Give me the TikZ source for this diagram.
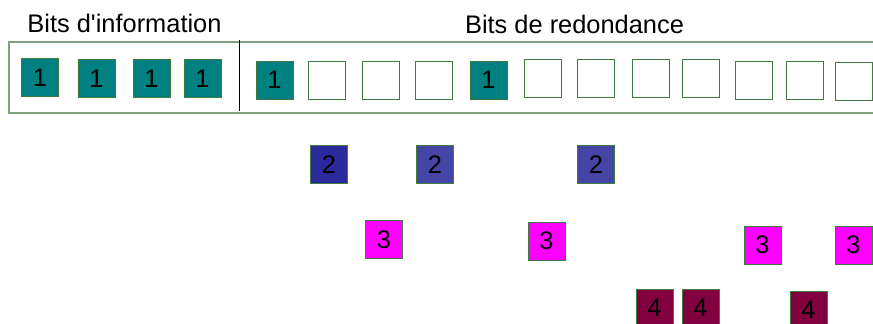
\documentclass[tikz,border=0pt]{standalone}
\usepackage{fontspec}
\setmainfont{Liberation Sans}
\usepackage{tikz}
\usepackage{xcolor}
\definecolor{framegreen}{HTML}{80A080}
\definecolor{boxgreen}{HTML}{3F7A3F}
\definecolor{bitteal}{HTML}{008080}
\definecolor{bitblue}{HTML}{2A2A9C}
\definecolor{bitbluelight}{HTML}{4545A5}
\definecolor{bitmagenta}{HTML}{FF00FF}
\definecolor{bitwine}{HTML}{800040}

\begin{document}
\begin{tikzpicture}[
    x=1pt, y=-1pt,
    every node/.style={font=\fontsize{25.4}{30}\selectfont},
    bitbox/.style={rectangle, draw=boxgreen, line width=1pt, minimum width=37pt, minimum height=38pt, inner sep=0pt},
    info/.style={bitbox, fill=bitteal},
    empty/.style={bitbox, fill=white},
    two/.style={bitbox, fill=bitbluelight},
    three/.style={bitbox, fill=bitmagenta},
    four/.style={bitbox, fill=bitwine}
]
    \useasboundingbox (0,0) rectangle (873,324);
    % titles
    \node[anchor=base] (infotitle) at (124.5,32) {Bits d\textquotesingle information};
    \node[anchor=base] (redtitle) at (574.5,33) {Bits de redondance};
    % frame and separator
    \draw[framegreen, line width=1.1pt] (880,42) -- (9,42) -- (9,113) -- (880,113);
    \draw[black, line width=1pt] (239,40) -- (239,111);
    % information bits
    \node[info] (i1) at (40,77.5) {1};
    \node[info] (i2) at (96.5,78.5) {1};
    \node[info] (i3) at (151.5,78.5) {1};
    \node[info] (i4) at (202.5,78.5) {1};
    % redundancy bits
    \node[info] (r1) at (274.5,80) {1};
    \node[empty] (r2) at (327,80) {};
    \node[empty] (r3) at (380.5,80) {};
    \node[empty] (r4) at (433.5,80) {};
    \node[info] (r5) at (488.5,80) {1};
    \node[empty] (r6) at (542.5,78.5) {};
    \node[empty] (r7) at (596,78.5) {};
    \node[empty] (r8) at (650.5,78.5) {};
    \node[empty] (r9) at (700.5,78.5) {};
    \node[empty] (r10) at (753.5,80.5) {};
    \node[empty] (r11) at (804.5,80) {};
    \node[empty] (r12) at (853.5,81.5) {};
    % second pass
    \node[two, fill=bitblue] (a1) at (329,164.5) {2};
    \node[two] (a2) at (435,164.5) {2};
    \node[two] (a3) at (596,164.5) {2};
    % third pass
    \node[three] (b1) at (384,239.5) {3};
    \node[three] (b2) at (546.5,241) {3};
    \node[three] (b3) at (762.5,245) {3};
    \node[three] (b4) at (853.5,245) {3};
    % fourth pass
    \node[four] (c1) at (654.5,308) {4};
    \node[four] (c2) at (700.5,308) {4};
    \node[four] (c3) at (808.5,310) {4};
\end{tikzpicture}
\end{document}
